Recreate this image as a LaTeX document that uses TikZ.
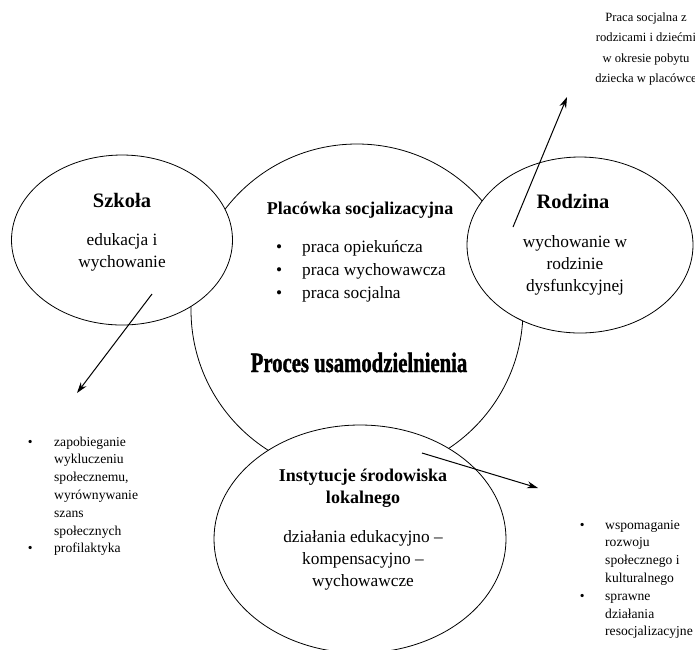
\documentclass[tikz,border=0pt]{standalone}
\usepackage{fontspec}
\setmainfont{Liberation Serif}
\newfontfamily\heavyfont[FakeBold=1.5]{Liberation Serif}
\usetikzlibrary{shapes.geometric,arrows.meta,positioning}

\tikzset{
  ring/.style={draw, ellipse, line width=0.8pt, fill=white, inner sep=0pt},
  head/.style={font=\fontsize{18}{22}\selectfont\bfseries, inner sep=0pt, align=center},
  body/.style={font=\fontsize{17.3}{22}\selectfont, inner sep=0pt, align=center},
  note/.style={font=\fontsize{13.6}{17.8}\selectfont, inner sep=0pt},
  arr/.style={-{Stealth[length=11pt,width=7pt]}, line width=1pt},
}

\begin{document}
\begin{tikzpicture}[x=1pt, y=-1pt]
    \useasboundingbox (0,0) rectangle (695,649);

    \node [ring, fill=none, minimum size=332pt] (proc) at (357,310) {};
    \node [ring, minimum width=221pt, minimum height=170pt] (szk) at (122,240) {};
    \node [ring, minimum width=226pt, minimum height=176pt] (rodz) at (580,245) {};
    \node [ring, minimum width=292pt, minimum height=228pt] (inst) at (360,539) {};

    \node [head, font=\fontsize{20.5}{24}\selectfont\bfseries, anchor=base] (szk-h) at (122,207) {Szkoła};
    \node [body] (szk-b) at (122,252.5) {edukacja i\\wychowanie};

    \node [head, font=\fontsize{20.5}{24}\selectfont\bfseries, anchor=base] (rodz-h) at (573,208) {Rodzina};
    \node [body] (rodz-b) at (575,265.5) {wychowanie w\\rodzinie\\dysfunkcyjnej};

    \node [head, anchor=base] (plac-h) at (360,214) {Placówka socjalizacyjna};
    \node [body, font=\fontsize{17.3}{23}\selectfont, anchor=north west] (plac-l) at (276,236) {%
      \begin{tabular}{@{}p{26pt}@{}l@{}}
        \textbullet & praca opiekuńcza\\
        \textbullet & praca wychowawcza\\
        \textbullet & praca socjalna
      \end{tabular}};

    \node [anchor=base, inner sep=0pt, font=\fontsize{28}{30}\heavyfont\bfseries] (proc-t) at (359,372)
      {\scalebox{0.74}[1]{Proces usamodzielnienia}};

    \node [head] (inst-h) at (363,488) {Instytucje środowiska\\lokalnego};
    \node [body] (inst-b) at (363,560.5) {działania edukacyjno –\\kompensacyjno –\\wychowawcze};

    \node [note, font=\fontsize{12.6}{20.5}\selectfont, align=center] (rodz-n) at (646,49)
      {Praca socjalna z\\rodzicami i dziećmi\\w okresie pobytu\\dziecka w placówce};

    \node [note, anchor=north west] (szk-n) at (27.6,433.5) {%
      \begin{tabular}{@{}p{26.4pt}@{}l@{}}
        \textbullet & zapobieganie\\
         & wykluczeniu\\
         & społecznemu,\\
         & wyrównywanie\\
         & szans\\
         & społecznych\\
        \textbullet & profilaktyka
      \end{tabular}};

    \node [note, anchor=north west] (inst-n) at (579.6,516.5) {%
      \begin{tabular}{@{}p{25.4pt}@{}l@{}}
        \textbullet & wspomaganie\\
         & rozwoju\\
         & społecznego i\\
         & kulturalnego\\
        \textbullet & sprawne\\
         & działania\\
         & resocjalizacyjne
      \end{tabular}};

    \coordinate (szk-a) at (152,294);
    \coordinate (szk-e) at (77,393);
    \coordinate (rodz-a) at (513,227);
    \coordinate (rodz-e) at (567,97);
    \coordinate (inst-a) at (422,453);
    \coordinate (inst-e) at (538,488);

    \draw [arr] (szk-a) -- (szk-e);
    \draw [arr] (rodz-a) -- (rodz-e);
    \draw [arr] (inst-a) -- (inst-e);
\end{tikzpicture}
\end{document}
